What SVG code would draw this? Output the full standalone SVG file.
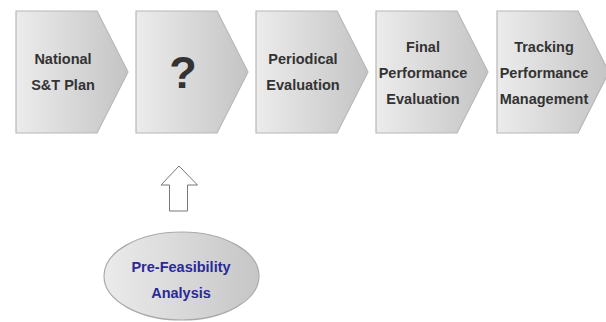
<svg xmlns="http://www.w3.org/2000/svg" width="606" height="322" viewBox="0 0 606 322">
<defs>
<linearGradient id="g" x1="0" y1="0" x2="1" y2="0">
<stop offset="0" stop-color="#ececec"/>
<stop offset="1" stop-color="#c4c4c4"/>
</linearGradient>
<linearGradient id="ge" x1="0" y1="0" x2="1" y2="0">
<stop offset="0" stop-color="#ebebeb"/>
<stop offset="1" stop-color="#c6c6c6"/>
</linearGradient>
<path id="chev" d="M0,0 H81 L112,61 L81,122 H0 Z"/>
</defs>
<style>
.sh{fill:url(#g);stroke:#b8b8b8;stroke-width:1.2}
.t{font-family:"Liberation Sans",Arial,sans-serif;font-weight:bold;font-size:14.5px;fill:#333;text-anchor:middle}
.b{font-family:"Liberation Sans",Arial,sans-serif;font-weight:bold;font-size:14.5px;fill:#2a2a96;text-anchor:middle}
</style>
<rect width="606" height="322" fill="#fff"/>
<g id="n1"><use href="#chev" class="sh" x="16" y="11"/><text class="t" x="63" y="64">National</text><text class="t" x="63" y="90">S&amp;T Plan</text></g>
<g id="n2"><use href="#chev" class="sh" x="136" y="11"/><text class="t" x="183" y="88" style="font-size:45px">?</text></g>
<g id="n3"><use href="#chev" class="sh" x="256" y="11"/><text class="t" x="303" y="64">Periodical</text><text class="t" x="303" y="90">Evaluation</text></g>
<g id="n4"><use href="#chev" class="sh" x="376" y="11"/><text class="t" x="423" y="52">Final</text><text class="t" x="423" y="78">Performance</text><text class="t" x="423" y="104">Evaluation</text></g>
<g id="n5"><use href="#chev" class="sh" x="497" y="11"/><text class="t" x="544" y="52">Tracking</text><text class="t" x="544" y="78">Performance</text><text class="t" x="544" y="104">Management</text></g>
<g id="connectors"><path d="M179,166 L197.5,185 H187.5 V211 H169.5 V185 H161 Z" fill="#fff" stroke="#777" stroke-width="1"/></g>
<g id="n6"><ellipse cx="181.5" cy="276" rx="77.5" ry="44" fill="url(#ge)" stroke="#aaa" stroke-width="1.2"/><text class="b" x="181" y="272">Pre-Feasibility</text><text class="b" x="181" y="298">Analysis</text></g>
</svg>
